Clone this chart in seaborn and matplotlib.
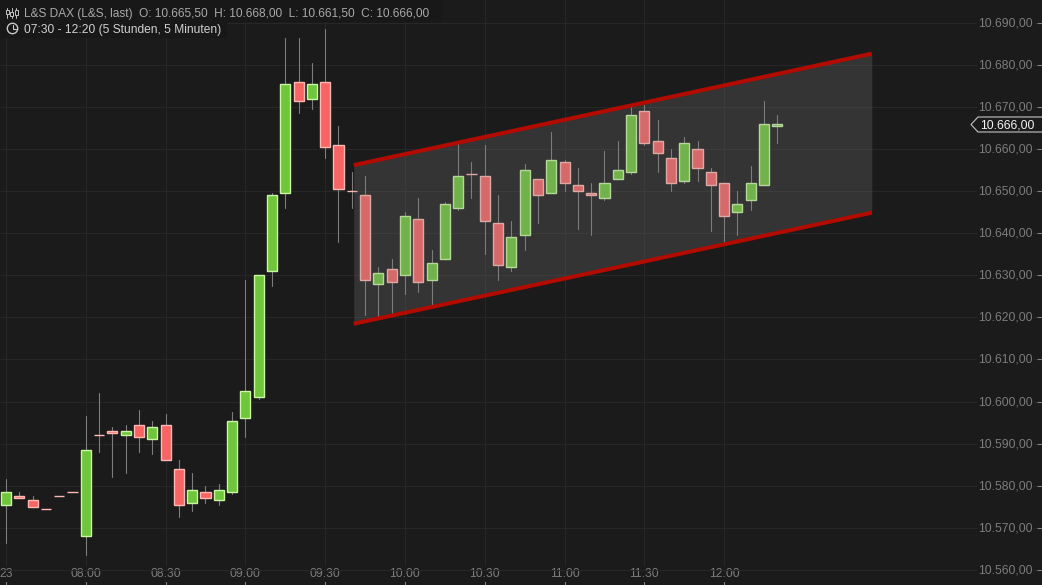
import matplotlib
matplotlib.use('Agg')
import matplotlib.pyplot as plt
import seaborn as sns
import pandas as pd
from matplotlib.patches import Circle, Polygon, Rectangle
from matplotlib.transforms import ScaledTranslation

# OHLC readings, one every 5 minutes from 07:30 to 12:20
opens = [10575.5, 10577.5, 10576.5, 10574.5, 10577.5, 10578.5, 10568, 10592, 10593, 10592,
         10594.5, 10591, 10594.5, 10584, 10576, 10578.5, 10576.5, 10578.5, 10596, 10601,
         10631, 10649.5, 10676, 10672, 10676, 10661, 10650, 10649, 10628, 10631.5,
         10630, 10643.5, 10629, 10634, 10646, 10654, 10653.5, 10642.5, 10632, 10639.5,
         10653, 10649.5, 10657, 10651.5, 10649.5, 10648.5, 10653, 10654.5, 10669, 10662,
         10658, 10652.5, 10660, 10654.5, 10652, 10645, 10648, 10651.5, 10665.5]
closes = [10578.5, 10577, 10575, 10574.5, 10577.5, 10578.5, 10588.5, 10592, 10592.5, 10593,
          10591.5, 10594, 10586, 10575.5, 10579, 10577, 10579, 10595.5, 10602.5, 10630,
          10649, 10675.5, 10671.5, 10675.5, 10660.5, 10650.5, 10650, 10629, 10630.5, 10628.5,
          10644, 10628.5, 10633, 10647, 10653.5, 10654, 10643, 10632.5, 10639, 10655,
          10649, 10657.5, 10652, 10650, 10649, 10652, 10655, 10668, 10661.5, 10659,
          10652, 10661.5, 10655.5, 10651.5, 10644, 10647, 10652, 10666, 10666]
highs = [10581.5, 10578.5, 10577.5, 10574.5, 10577.5, 10578.5, 10596.5, 10602, 10594, 10594.5,
         10598, 10595.5, 10597, 10586, 10583, 10580, 10580.5, 10597.5, 10629, 10630,
         10649.5, 10686.5, 10686.5, 10680.5, 10688.5, 10665.5, 10654.5, 10653.5, 10632, 10634,
         10645, 10648.5, 10636, 10647.5, 10662, 10657, 10661, 10649, 10643, 10656.5,
         10653, 10664, 10657.5, 10655.5, 10652, 10659.5, 10662, 10670, 10670.5, 10667,
         10660, 10663, 10662, 10655.5, 10652, 10650, 10656, 10671.5, 10668]
lows = [10566.5, 10577, 10575, 10574.5, 10577.5, 10578.5, 10563.5, 10588, 10582, 10583,
        10588, 10587.5, 10586, 10572.5, 10574, 10576, 10575.5, 10578, 10591.5, 10600.5,
        10627.5, 10646, 10668.5, 10669.5, 10658, 10638, 10646, 10620.5, 10620, 10621,
        10625.5, 10626, 10623, 10634, 10645.5, 10648.5, 10635, 10629, 10631, 10636,
        10642.5, 10649.5, 10650, 10641, 10639.5, 10648, 10653, 10654, 10661, 10654.5,
        10650, 10652, 10652.5, 10640.5, 10638, 10639.5, 10645.5, 10651.5, 10661.5]

# slots of the tick marks
time_slots = [0, 6, 12, 18, 24, 30, 36, 42, 48, 54]
time_labels = ['23', '08:00', '08:30', '09:00', '09:30', '10:00', '10:30', '11:00', '11:30', '12:00']
price_ticks = [10560, 10570, 10580, 10590, 10600, 10610, 10620, 10630, 10640, 10650, 10660, 10670, 10680, 10690]
price_labels = ['10.560,00', '10.570,00', '10.580,00', '10.590,00', '10.600,00', '10.610,00', '10.620,00',
                '10.630,00', '10.640,00', '10.650,00', '10.660,00', '10.670,00', '10.680,00', '10.690,00']

# trend channel
channel_slots = [26.15, 65.1]
channel_upper = [10656.2, 10682.7]
channel_lower = [10618.5, 10644.9]
last_price = '10.666,00'

BG = '#1b1b1b'
GRID = '#272727'
TEXT = '#7c7c7c'

sns.set_theme(style='dark', rc={'figure.facecolor': BG, 'axes.facecolor': BG, 'savefig.facecolor': BG})
plt.rcParams['font.family'] = ['Liberation Sans', 'DejaVu Sans']

df = pd.DataFrame({'slot': range(len(opens)), 'open': opens, 'close': closes, 'high': highs, 'low': lows})
df['bottom'] = df[['open', 'close']].min(axis=1)
df['body'] = (df['close'] - df['open']).abs()
df['up'] = df['close'] > df['open']

wicks = df.melt(id_vars='slot', value_vars=['low', 'high'], value_name='price')

fig = plt.figure(figsize=(10.42, 5.85), dpi=100)
ax = fig.add_axes([0, 0, 1, 1])
ax.set_axisbelow(True)

sns.lineplot(data=wicks, x='slot', y='price', units='slot', estimator=None, color='#7d7d7d',
             linewidth=0.8, ax=ax, zorder=2, legend=False)

up = df[df['up']]
down = df[~df['up']]
sns.barplot(x=up['slot'], y=up['body'], bottom=up['bottom'], native_scale=True, width=0.76,
            color='#6fc63b', saturation=1, edgecolor='#c9f7a4', linewidth=1, ax=ax, zorder=3)
sns.barplot(x=down['slot'], y=down['body'], bottom=down['bottom'], native_scale=True, width=0.76,
            color='#f66464', saturation=1, edgecolor='#ffb9b4', linewidth=1, ax=ax, zorder=3)

# channel sits over the candles and dims them
ax.fill_between(channel_slots, channel_lower, channel_upper, color='#7c7c7c', alpha=0.26, linewidth=0, zorder=4)
sns.lineplot(x=channel_slots, y=channel_upper, color='#b30b00', linewidth=2.9, ax=ax, zorder=5, solid_capstyle='butt')
sns.lineplot(x=channel_slots, y=channel_lower, color='#b30b00', linewidth=2.9, ax=ax, zorder=5, solid_capstyle='butt')

ax.set_xlim(-0.45, 77.9)
ax.set_ylim(10556.4, 10695.45)
ax.set_xlabel('')
ax.set_ylabel('')
ax.set_xticks(time_slots, time_labels)
ax.set_yticks(price_ticks, price_labels)
ax.yaxis.tick_right()
ax.grid(True, color=GRID, linewidth=0.8)
ax.tick_params(axis='x', direction='in', length=3, width=0.8, color='#808080', pad=-12,
               labelsize=8.7, labelcolor=TEXT, bottom=True)
ax.tick_params(axis='y', direction='in', length=3.5, width=0.8, color='#808080', pad=-6.5,
               labelsize=8.7, labelcolor=TEXT, right=True)
# price labels sit a pixel above their tick
nudge = ScaledTranslation(0, 1 / 100, fig.dpi_scale_trans)
for lab in ax.get_yticklabels():
    lab.set_ha('right')
    lab.set_va('center_baseline')
    lab.set_transform(lab.get_transform() + nudge)
    lab.set_bbox(dict(facecolor=BG, edgecolor='none', pad=1))
for lab in ax.get_xticklabels():
    lab.set_bbox(dict(facecolor=BG, edgecolor='none', pad=1.5))
for s in ax.spines.values():
    s.set_visible(False)


def px(x, y):
    return x / 1042, 1 - y / 585


# last price tag
tag = Polygon([px(971, 124.5), px(978, 117), px(1048, 117), px(1048, 132), px(978, 132)], closed=True,
              facecolor=BG, edgecolor='#c4c4c4', linewidth=0.8, transform=fig.transFigure, zorder=8)
fig.add_artist(tag)
fig.text(*px(1007.5, 125), last_price, color='#f4f4f4', fontsize=8.7, ha='center', va='center', zorder=9)

# header
fig.add_artist(Rectangle(px(0, 21), 440 / 1042, 21 / 585, transform=fig.transFigure, color='#181818', zorder=6))
fig.add_artist(Rectangle(px(0, 37), 226 / 1042, 16 / 585, transform=fig.transFigure, color='#181818', zorder=6))
fig.text(*px(23.5, 13.5), 'L&S DAX (L&S, last)  O: 10.665,50  H: 10.668,00  L: 10.661,50  C: 10.666,00',
         color='#a9a9a9', fontsize=8.56, va='center', zorder=9)
fig.text(*px(23.5, 29.5), '07:30 - 12:20 (5 Stunden, 5 Minuten)', color='#d0d0d0', fontsize=8.62, va='center', zorder=9)

# small icons in the header
for x, y0, y1, b0, b1 in [(7, 8, 18, 10, 14), (11.5, 8, 18, 12, 16), (16, 8, 18, 10, 15)]:
    fig.add_artist(plt.Line2D([px(x, y0)[0], px(x, y1)[0]], [px(x, y0)[1], px(x, y1)[1]], color='#c4c4c4',
                              linewidth=0.7, transform=fig.transFigure, zorder=9))
    fig.add_artist(Rectangle(px(x - 1.5, b1), 3 / 1042, (b1 - b0) / 585, transform=fig.transFigure,
                             facecolor='#181818', edgecolor='#c4c4c4', linewidth=0.7, zorder=10))
clock = Circle((12.5, 585 - 28.5), 5.2, transform=None, facecolor='none', edgecolor='#c8c8c8', linewidth=1, zorder=9)
fig.add_artist(clock)
fig.add_artist(plt.Line2D([12.5 / 1042, 12.5 / 1042, 15.5 / 1042], [1 - 25 / 585, 1 - 29 / 585, 1 - 29 / 585],
                          color='#c8c8c8', linewidth=0.8, transform=fig.transFigure, zorder=9))

fig.savefig('out.png', dpi=100, facecolor=BG)
plt.close(fig)
